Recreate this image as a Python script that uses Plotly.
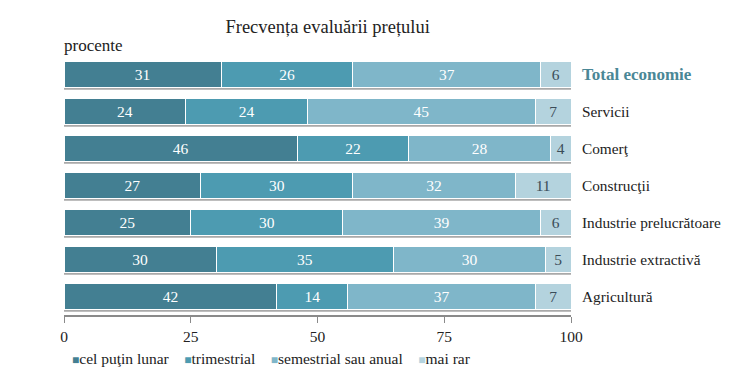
import plotly.graph_objects as go

categories = ["Total economie", "Servicii", "Comerţ", "Construcţii",
              "Industrie prelucrătoare", "Industrie extractivă", "Agricultură"]
series_names = ["cel puţin lunar", "trimestrial", "semestrial sau anual", "mai rar"]
lunar = [31, 24, 46, 27, 25, 30, 42]
trimestrial = [26, 24, 22, 30, 30, 35, 14]
semestrial = [37, 45, 28, 32, 39, 30, 37]
mai_rar = [6, 7, 4, 11, 6, 5, 7]
x_ticks = [0, 25, 50, 75, 100]

series_values = [lunar, trimestrial, semestrial, mai_rar]
colors = ["#437f92", "#4d9bb1", "#7fb6c9", "#b4d3de"]
text_colors = ["white", "white", "white", "#3b4c58"]

FONT = "'Liberation Serif', 'Times New Roman', serif"
BAR_HALF = 0.35

fig = go.Figure()
for name, vals, c, tc in zip(series_names, series_values, colors, text_colors):
    fig.add_trace(go.Bar(
        y=categories, x=vals, name=name, orientation="h",
        marker=dict(color=c, line=dict(color="white", width=1)),
        text=[str(v) for v in vals], textposition="inside",
        insidetextanchor="middle", textangle=0,
        textfont=dict(family=FONT, size=15.5, color=tc),
        hoverinfo="skip", showlegend=False,
    ))

# bar drop shadows (under each stacked bar, spanning its total)
totals = [sum(v) for v in zip(*series_values)]
shapes = []
for i, tot in enumerate(totals):
    shapes.append(dict(type="rect", xref="x", yref="y", x0=0, x1=tot,
                       y0=i + BAR_HALF, y1=i + BAR_HALF + 0.065,
                       fillcolor="#a9a9a9", line=dict(width=0), layer="below"))

legend_parts = []
for name, c in zip(series_names, colors):
    legend_parts.append(
        f"<span style='color:{c};font-size:12px'>■</span>{name}")
legend_text = "&nbsp;&nbsp;&nbsp;&nbsp;".join(legend_parts)

ticktext = ["<b><span style='color:#4a8796;font-size:17px'>Total economie</span></b>"] + categories[1:]

fig.update_layout(
    barmode="stack",
    bargap=1 - 2 * BAR_HALF,
    width=740, height=387,
    margin=dict(l=56, r=177, t=48, b=80, autoexpand=False),
    paper_bgcolor="white", plot_bgcolor="white",
    font=dict(family=FONT, size=14, color="#222"),
    uniformtext=dict(minsize=15, mode="show"),
    title=dict(text="Frecvența evaluării prețului", x=0.432, xanchor="center",
               y=0.953, yanchor="middle", font=dict(family=FONT, size=18.5, color="#222")),
    showlegend=False,
    shapes=shapes,
    annotations=[
        dict(text="procente", xref="paper", yref="paper", x=-0.004, y=0.995,
             xanchor="left", yanchor="bottom", showarrow=False,
             font=dict(family=FONT, size=17, color="#222")),
        dict(text=legend_text, xref="paper", yref="paper", x=0.012, y=-0.128,
             xanchor="left", yanchor="top", showarrow=False,
             font=dict(family=FONT, size=15.5, color="#222")),
    ],
)
fig.update_xaxes(range=[0, 100], tickvals=x_ticks, ticktext=[str(t) for t in x_ticks],
                 showgrid=False, zeroline=False, showline=True, linecolor="#8a8a8a",
                 linewidth=2, ticks="outside", ticklen=6, tickcolor="#8a8a8a",
                 tickwidth=1, tickfont=dict(family=FONT, size=15.5, color="#222"),
                 fixedrange=True, automargin=False)
fig.update_yaxes(categoryorder="array", categoryarray=categories, autorange="reversed",
                 side="right", tickvals=categories, ticktext=ticktext,
                 showgrid=False, showline=False, ticks="", ticklabelstandoff=10,
                 tickfont=dict(family=FONT, size=15.3, color="#222"), automargin=False)

fig.write_html("out.html")
